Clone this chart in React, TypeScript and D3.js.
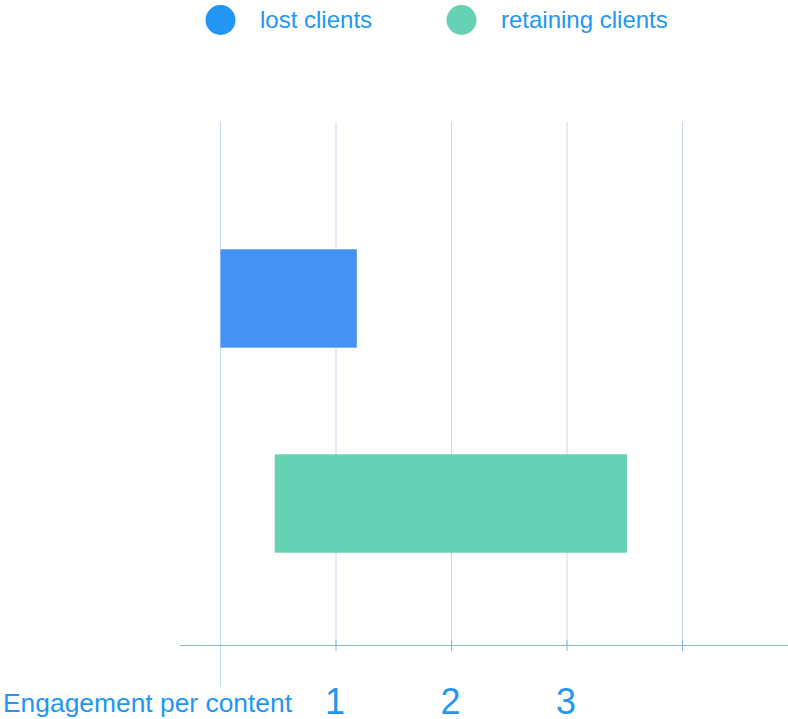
import * as d3 from "d3";
import { useEffect, useRef } from "react";

const categories = ["lost clients", "retaining clients"];
const startValues = [0, 0.47];
const endValues = [1.18, 3.52];
const barColors = ["#4492f4", "#67d1b5"];
const legendColors = ["#2196f3", "#67d1b5"];
const gridValues = [0, 1, 2, 3, 4];
const tickLabels = [1, 2, 3];
const axisTitle = "Engagement per content";

export default function App() {
  const svgRef = useRef<SVGSVGElement>(null);
  const width = 788;
  const height = 719;

  useEffect(() => {
    if (!svgRef.current) return;
    const svg = d3.select(svgRef.current);
    svg.selectAll("*").remove();

    const font = "Liberation Sans, Arial, sans-serif";
    const textColor = "#2196f3";

    const x = d3.scaleLinear().domain([0, 4]).range([220.5, 682.5]);
    const y = d3.scaleBand<string>()
      .domain(categories)
      .range([196, 606])
      .paddingInner(0.52)
      .paddingOuter(0.26);

    const axisY = 645.5;

    // grid
    svg.append("g")
      .selectAll("line")
      .data(gridValues)
      .enter()
      .append("line")
      .attr("x1", d => x(d))
      .attr("x2", d => x(d))
      .attr("y1", 122)
      .attr("y2", d => (d === 0 ? 687 : axisY))
      .attr("stroke", "#c5d7f4")
      .attr("stroke-width", 1);

    // bars
    svg.append("g")
      .selectAll("rect")
      .data(categories)
      .enter()
      .append("rect")
      .attr("x", (_, i) => x(startValues[i]))
      .attr("width", (_, i) => x(endValues[i]) - x(startValues[i]))
      .attr("y", d => y(d)!)
      .attr("height", y.bandwidth())
      .attr("fill", (_, i) => barColors[i]);

    // axis line + ticks
    svg.append("line")
      .attr("x1", 180)
      .attr("x2", width)
      .attr("y1", axisY)
      .attr("y2", axisY)
      .attr("stroke", "#8ab3ee")
      .attr("stroke-width", 1);

    svg.append("g")
      .selectAll("line")
      .data(gridValues.slice(1))
      .enter()
      .append("line")
      .attr("x1", d => x(d))
      .attr("x2", d => x(d))
      .attr("y1", 640)
      .attr("y2", 651)
      .attr("stroke", "#8ab3ee")
      .attr("stroke-width", 1);

    svg.append("g")
      .selectAll("text")
      .data(tickLabels)
      .enter()
      .append("text")
      .attr("x", d => x(d) - 1)
      .attr("y", 714)
      .attr("text-anchor", "middle")
      .attr("font-family", font)
      .attr("font-size", 36)
      .attr("fill", textColor)
      .text(d => d);

    svg.append("text")
      .attr("x", 3)
      .attr("y", 712)
      .attr("font-family", font)
      .attr("font-size", 26.4)
      .attr("fill", textColor)
      .text(axisTitle);

    // legend
    const legendX = [220.5, 461.5];
    const legend = svg.append("g")
      .selectAll("g")
      .data(categories)
      .enter()
      .append("g")
      .attr("transform", (_, i) => `translate(${legendX[i]},20)`);
    legend.append("circle")
      .attr("r", 15)
      .attr("fill", (_, i) => legendColors[i]);
    legend.append("text")
      .attr("x", 39.5)
      .attr("y", 7.5)
      .attr("font-family", font)
      .attr("font-size", 24)
      .attr("fill", textColor)
      .text(d => d);
  }, []);

  return (
    <svg
      ref={svgRef}
      width={width}
      height={height}
      style={{ position: "absolute", left: 0, top: 0 }}
    />
  );
}
